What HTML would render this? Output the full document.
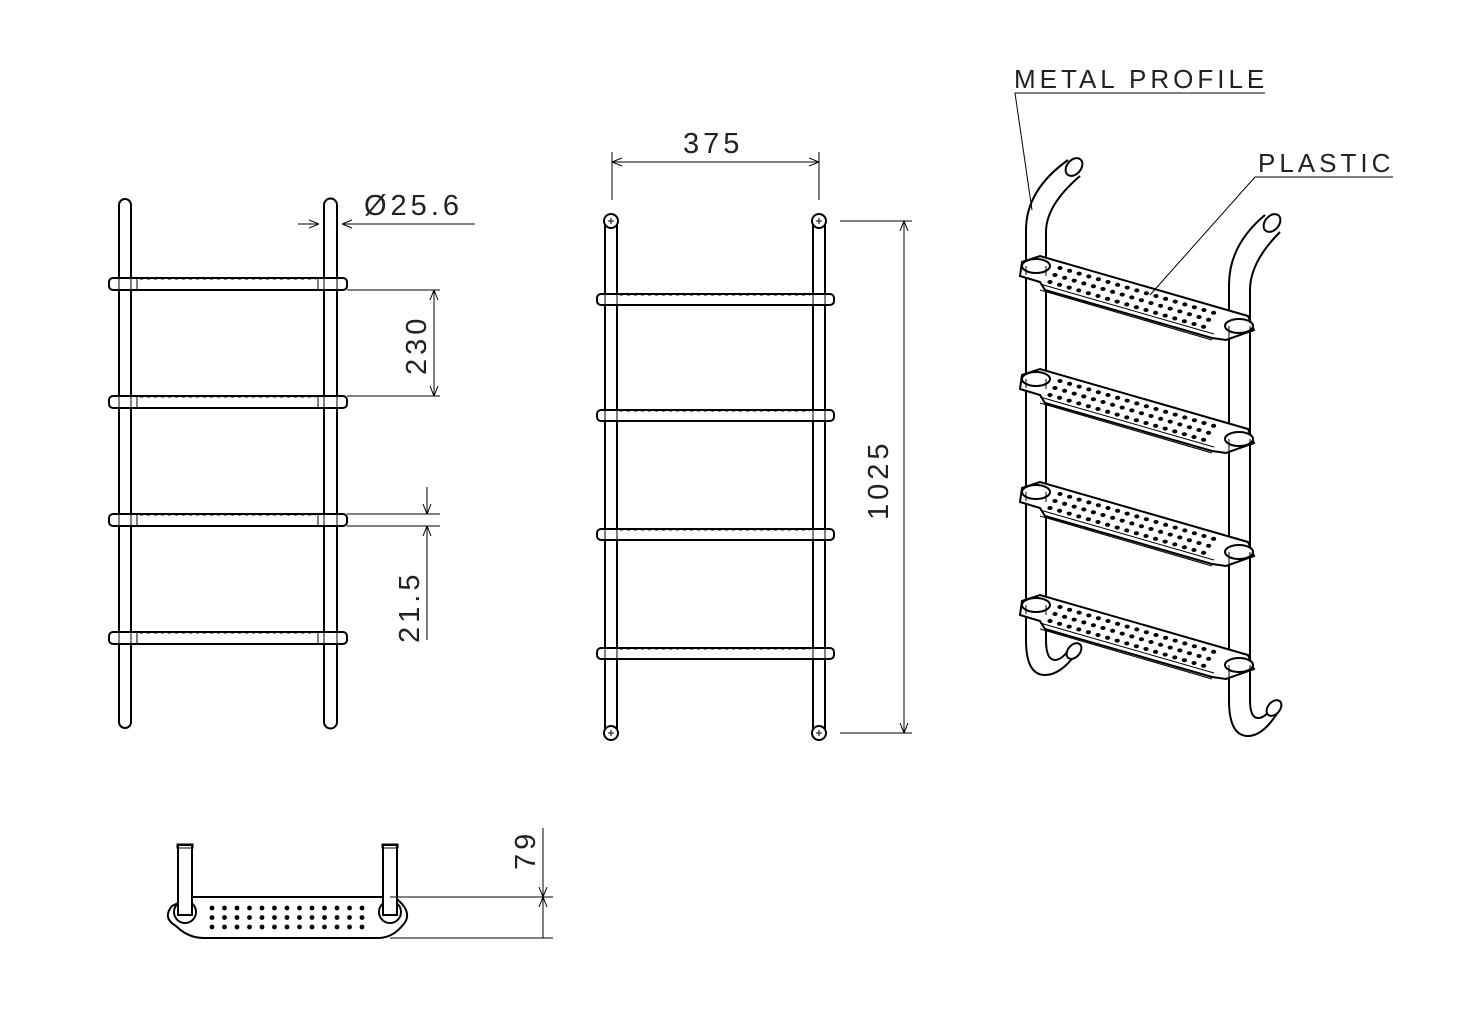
<!DOCTYPE html>
<html><head><meta charset="utf-8"><style>
html,body{margin:0;padding:0;background:#fff}
svg{display:block}
text{font-family:"Liberation Sans",sans-serif;font-size:29px;fill:#222;stroke:none;font-weight:normal;letter-spacing:4px}
</style></head><body>
<svg id="s" width="1457" height="1031" viewBox="0 0 1457 1031" xmlns="http://www.w3.org/2000/svg" fill="none" stroke="#000" stroke-width="2">
<defs>
<marker id="a" viewBox="0 0 10 10" refX="10" refY="5" markerWidth="10" markerHeight="10" orient="auto-start-reverse" markerUnits="userSpaceOnUse"><path d="M0,1 L10,5 L0,9" stroke-width="1"/></marker>
</defs>

<g>
<path d="M119,722 V205 a6,6 0 0 1 12,0 V722 a6,6 0 0 1 -12,0Z"/>
<path d="M324,722 V205 a6.5,6.5 0 0 1 13,0 V722 a6.5,6.5 0 0 1 -13,0Z"/>
<g id="st1">
<rect x="109" y="278" width="238" height="12" rx="4" fill="#fff"/>
<path d="M119,278V290M131,278V290M137,278V290M324,278V290M318,278V290M337,278V290" stroke-width="1"/>
<path d="M140,279H316" stroke-width="1" stroke-dasharray="3,4"/>
</g>
<use href="#st1" y="118"/><use href="#st1" y="236"/><use href="#st1" y="354"/>
</g>
<g stroke-width="1">
<line x1="298" y1="224" x2="319" y2="224" marker-end="url(#a)"/>
<line x1="475" y1="224" x2="342" y2="224" marker-end="url(#a)"/>
<line x1="347" y1="290" x2="440" y2="290"/><line x1="347" y1="396" x2="440" y2="396"/>
<line x1="434" y1="290" x2="434" y2="396" marker-start="url(#a)" marker-end="url(#a)"/>
<line x1="347" y1="514" x2="440" y2="514"/><line x1="347" y1="526" x2="440" y2="526"/>
<line x1="427" y1="487" x2="427" y2="514" marker-end="url(#a)"/>
<line x1="427" y1="640" x2="427" y2="526" marker-end="url(#a)"/>
</g>
<text x="364" y="215">Ø25.6</text>
<text transform="translate(426,375) rotate(-90)">230</text>
<text transform="translate(419,643) rotate(-90)">21.5</text>

<g>
<rect x="605" y="221" width="12" height="512"/>
<rect x="813" y="221" width="12" height="512"/>
<circle cx="611" cy="221" r="7" fill="#fff"/><circle cx="819" cy="221" r="7" fill="#fff"/>
<circle cx="611" cy="733" r="7" fill="#fff"/><circle cx="819" cy="733" r="7" fill="#fff"/>
<path d="M608,221h6M611,218v6M816,221h6M819,218v6M608,733h6M611,730v6M816,733h6M819,730v6" stroke-width="1"/>
<g id="st2">
<rect x="597" y="294" width="237" height="11" rx="4" fill="#fff"/>
<path d="M605,294V305M617,294V305M813,294V305M825,294V305" stroke-width="1"/>
<path d="M620,295H810" stroke-width="1" stroke-dasharray="3,4"/>
</g>
<use href="#st2" y="116"/><use href="#st2" y="235"/><use href="#st2" y="354"/>
</g>
<g stroke-width="1">
<line x1="612" y1="152" x2="612" y2="200"/><line x1="819" y1="152" x2="819" y2="200"/>
<line x1="612" y1="162" x2="819" y2="162" marker-start="url(#a)" marker-end="url(#a)"/>
<line x1="840" y1="221" x2="912" y2="221"/><line x1="840" y1="733" x2="912" y2="733"/>
<line x1="904" y1="221" x2="904" y2="733" marker-start="url(#a)" marker-end="url(#a)"/>
</g>
<text x="683" y="153">375</text>
<text transform="translate(888,520) rotate(-90)">1025</text>

<g id="iso">
<path d="M1026,640 V230 Q1026,190 1068,160 M1046,640 V232 Q1046,205 1080,176"/>
<ellipse cx="1074" cy="167" rx="7" ry="10" transform="rotate(40 1074 167)" fill="#fff"/>
<path d="M1026,640 Q1026,675 1045,675 Q1060,675 1075,655 M1046,640 Q1046,660 1055,660 Q1062,660 1070,648"/>
<ellipse cx="1074" cy="651" rx="6" ry="9" transform="rotate(40 1074 651)" fill="#fff"/>
<path d="M1229,700 V285 Q1229,245 1265,215 M1250,700 V290 Q1250,262 1280,232"/>
<ellipse cx="1272" cy="223" rx="7" ry="10" transform="rotate(40 1272 223)" fill="#fff"/>
<path d="M1229,700 Q1229,736 1248,736 Q1263,736 1278,712 M1250,700 Q1250,718 1258,718 Q1266,718 1272,706"/>
<ellipse cx="1274" cy="708" rx="6" ry="9" transform="rotate(40 1274 708)" fill="#fff"/>
</g>
<g id="st3">
<path d="M1022,262 L1040,256 L1248,316 L1254,330 L1226,340 L1212,338 L1045,290 L1040,282 L1020,276 Z" fill="#fff"/>
<path d="M1040,290 L1212,340 M1040,284 L1214,334" stroke-width="1"/>
<ellipse cx="1036" cy="266" rx="14" ry="7" fill="#fff"/>
<ellipse cx="1239" cy="326" rx="14" ry="7" fill="#fff"/>
<path d="M1026,266V275M1046,266V276M1229,326V338M1250,326V336" stroke-width="1"/>
<g id="dots" fill="#000" stroke="none"></g>
</g>
<use href="#st3" y="113"/><use href="#st3" y="226"/><use href="#st3" y="339"/>
<g stroke-width="1">
<path d="M1265,93 H1015 L1032,210"/>
<path d="M1393,177 H1255 L1150,295"/>
</g>
<text x="1014" y="88" style="font-size:26px">METAL PROFILE</text>
<text x="1258" y="172" style="font-size:26px">PLASTIC</text>

<g>
<path d="M172,906 Q162,918 176,926 Q188,938 204,938 H378 Q392,938 402,926 Q414,914 398,900 L390,897 H190 Z" fill="#fff"/>
<circle cx="185" cy="912" r="11" fill="#fff"/><circle cx="390" cy="912" r="11" fill="#fff"/>
<rect x="178" y="845" width="14" height="70" fill="#fff"/>
<rect x="383" y="845" width="14" height="70" fill="#fff"/>
<rect x="177" y="844" width="16" height="4" stroke-width="1"/><rect x="382" y="844" width="16" height="4" stroke-width="1"/>
<g id="bdots" fill="#000" stroke="none"></g>
</g>
<g stroke-width="1">
<line x1="390" y1="897" x2="553" y2="897"/><line x1="390" y1="938" x2="553" y2="938"/>
<line x1="543" y1="828" x2="543" y2="897" marker-end="url(#a)"/>
<line x1="543" y1="938" x2="543" y2="897" marker-end="url(#a)"/>
</g>
<text transform="translate(535,870) rotate(-90)">79</text>
</svg>
<script>
var NS="http://www.w3.org/2000/svg";
var d=document.getElementById("dots");
for(var r=0;r<3;r++)for(var c=0;c<17;c++){var e=document.createElementNS(NS,"ellipse");
e.setAttribute("cx",1060+c*9.6-r*5);e.setAttribute("cy",268+c*2.8+r*7);e.setAttribute("rx",2.6);e.setAttribute("ry",2);d.appendChild(e);}
var b=document.getElementById("bdots");
for(var r=0;r<3;r++)for(var c=0;c<13;c++){var e=document.createElementNS(NS,"circle");
e.setAttribute("cx",212+c*12.5);e.setAttribute("cy",908+r*9.5);e.setAttribute("r",2.4);b.appendChild(e);}
</script>
</body></html>
